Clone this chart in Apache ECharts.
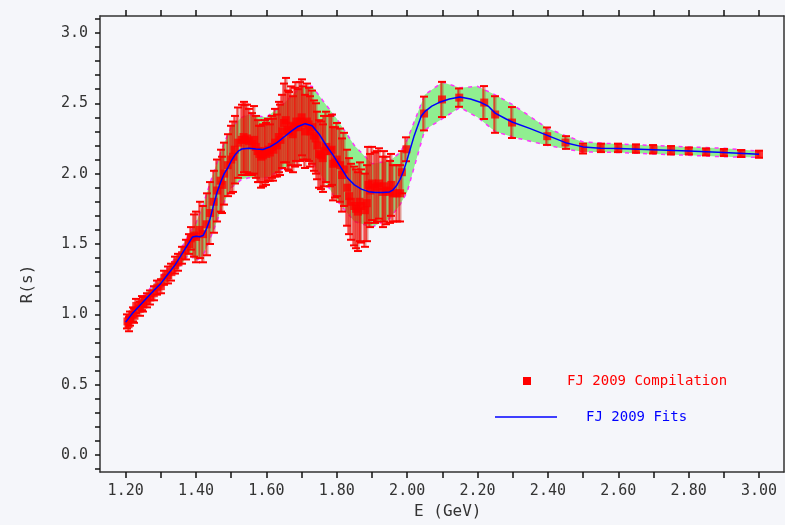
<!DOCTYPE html>
<html>
<head>
<meta charset="utf-8">
<script src="https://cdn.jsdelivr.net/npm/echarts@6/dist/echarts.min.js"></script>
<style>
  html, body { margin: 0; padding: 0; background: #f5f6fa; }
  #chart { width: 785px; height: 525px; }
</style>
</head>
<body>
<div id="chart"></div>
<script>
// R(s) compilation: energy (GeV), ratio, symmetric error
const dataE = [
  1.205, 1.208, 1.212, 1.220, 1.225, 1.230, 1.240, 1.245, 1.250, 1.260,
  1.270, 1.280, 1.290, 1.300, 1.310, 1.320, 1.330, 1.340, 1.350, 1.360,
  1.370, 1.380, 1.385, 1.395, 1.400, 1.410, 1.420, 1.430, 1.440, 1.450,
  1.460, 1.470, 1.475, 1.480, 1.490, 1.500, 1.505, 1.510, 1.520, 1.530,
  1.535, 1.540, 1.545, 1.550, 1.560, 1.565, 1.570, 1.575, 1.580, 1.585,
  1.590, 1.595, 1.600, 1.605, 1.610, 1.615, 1.620, 1.625, 1.630, 1.635,
  1.640, 1.645, 1.650, 1.655, 1.660, 1.665, 1.670, 1.675, 1.680, 1.685,
  1.690, 1.695, 1.700, 1.705, 1.710, 1.715, 1.720, 1.725, 1.730, 1.735,
  1.740, 1.745, 1.750, 1.755, 1.760, 1.765, 1.770, 1.780, 1.785, 1.790,
  1.795, 1.800, 1.810, 1.815, 1.820, 1.830, 1.835, 1.840, 1.850, 1.855,
  1.860, 1.865, 1.870, 1.880, 1.885, 1.890, 1.895, 1.900, 1.910, 1.915,
  1.920, 1.930, 1.935, 1.940, 1.950, 1.955, 1.960, 1.970, 1.980, 1.985,
  1.998, 2.048, 2.099, 2.148, 2.219, 2.250, 2.298, 2.398, 2.450, 2.500,
  2.550, 2.600, 2.650, 2.700, 2.750, 2.800, 2.850, 2.900, 2.950, 3.000
];
const dataR = [
  0.95, 0.93, 0.97, 1.00, 0.99, 1.06, 1.04, 1.08, 1.07, 1.10,
  1.12, 1.15, 1.19, 1.20, 1.26, 1.28, 1.30, 1.35, 1.37, 1.42,
  1.46, 1.50, 1.54, 1.56, 1.55, 1.60, 1.57, 1.64, 1.72, 1.80,
  1.88, 1.95, 1.92, 2.00, 2.06, 2.10, 2.12, 2.17, 2.22, 2.24,
  2.26, 2.24, 2.25, 2.23, 2.21, 2.24, 2.19, 2.16, 2.14, 2.12,
  2.13, 2.16, 2.14, 2.17, 2.15, 2.19, 2.17, 2.22, 2.20, 2.26,
  2.24, 2.30, 2.36, 2.38, 2.31, 2.30, 2.34, 2.28, 2.33, 2.37,
  2.33, 2.37, 2.40, 2.36, 2.30, 2.37, 2.35, 2.30, 2.33, 2.27,
  2.25, 2.20, 2.14, 2.13, 2.11, 2.16, 2.19, 2.16, 2.17, 2.07,
  2.08, 2.10, 2.06, 1.99, 2.03, 1.90, 1.84, 1.80, 1.77, 1.75,
  1.73, 1.80, 1.77, 1.74, 1.79, 1.92, 1.88, 1.93, 1.90, 1.91,
  1.93, 1.87, 1.91, 1.88, 1.87, 1.92, 1.86, 1.86, 1.86, 2.01,
  2.173, 2.427, 2.527, 2.540, 2.505, 2.420, 2.363, 2.266, 2.221, 2.178,
  2.183, 2.183, 2.178, 2.173, 2.166, 2.161, 2.154, 2.150, 2.143, 2.138
];
const dataErr = [
  0.05, 0.05, 0.05, 0.05, 0.05, 0.05, 0.05, 0.05, 0.05, 0.05,
  0.05, 0.05, 0.05, 0.05, 0.05, 0.06, 0.06, 0.06, 0.06, 0.06,
  0.07, 0.07, 0.08, 0.15, 0.18, 0.20, 0.20, 0.22, 0.22, 0.22,
  0.22, 0.22, 0.20, 0.22, 0.22, 0.24, 0.25, 0.24, 0.25, 0.25,
  0.25, 0.25, 0.24, 0.23, 0.22, 0.24, 0.22, 0.22, 0.20, 0.22,
  0.22, 0.22, 0.22, 0.22, 0.20, 0.22, 0.22, 0.24, 0.22, 0.25,
  0.25, 0.26, 0.28, 0.30, 0.28, 0.28, 0.28, 0.27, 0.28, 0.28,
  0.27, 0.28, 0.27, 0.26, 0.26, 0.27, 0.26, 0.25, 0.26, 0.25,
  0.25, 0.24, 0.24, 0.24, 0.24, 0.25, 0.25, 0.25, 0.25, 0.26,
  0.25, 0.26, 0.26, 0.26, 0.26, 0.27, 0.27, 0.27, 0.28, 0.28,
  0.28, 0.28, 0.26, 0.26, 0.27, 0.27, 0.26, 0.26, 0.25, 0.25,
  0.25, 0.25, 0.25, 0.24, 0.22, 0.22, 0.20, 0.20, 0.20, 0.15,
  0.085, 0.120, 0.125, 0.065, 0.117, 0.130, 0.110, 0.062, 0.045, 0.035,
  0.030, 0.030, 0.030, 0.030, 0.030, 0.025, 0.025, 0.025, 0.025, 0.025
];

// Fitted curve
const fitE = [
  1.20, 1.22, 1.25, 1.28, 1.30, 1.32, 1.34, 1.36, 1.38, 1.39,
  1.40, 1.41, 1.42, 1.43, 1.44, 1.45, 1.46, 1.47, 1.48, 1.49,
  1.50, 1.51, 1.52, 1.53, 1.55, 1.57, 1.59, 1.61, 1.63, 1.65,
  1.67, 1.69, 1.71, 1.73, 1.75, 1.77, 1.79, 1.81, 1.83, 1.85,
  1.87, 1.89, 1.91, 1.93, 1.95, 1.96, 1.97, 1.98, 1.99, 2.00,
  2.02, 2.04, 2.05, 2.07, 2.09, 2.12, 2.15, 2.18, 2.21, 2.23,
  2.25, 2.28, 2.30, 2.35, 2.40, 2.45, 2.50, 2.55, 2.60, 2.70,
  2.80, 2.90, 3.00
];
const fitR = [
  0.945, 1.01, 1.09, 1.17, 1.22, 1.285, 1.35, 1.43, 1.51, 1.55,
  1.555, 1.552, 1.56, 1.61, 1.68, 1.78, 1.87, 1.94, 2.00, 2.04,
  2.09, 2.13, 2.16, 2.175, 2.18, 2.175, 2.172, 2.19, 2.22, 2.26,
  2.30, 2.335, 2.355, 2.34, 2.28, 2.20, 2.13, 2.05, 1.97, 1.92,
  1.89, 1.872, 1.866, 1.866, 1.87, 1.885, 1.915, 1.96, 2.02, 2.10,
  2.27, 2.41, 2.44, 2.48, 2.505, 2.53, 2.545, 2.53, 2.505, 2.48,
  2.43, 2.39, 2.365, 2.32, 2.27, 2.22, 2.19, 2.18, 2.178, 2.17,
  2.16, 2.15, 2.138
];

// Error band of the fit
const bandE = [
  1.20, 1.25, 1.30, 1.35, 1.38, 1.40, 1.42, 1.45, 1.48, 1.50,
  1.53, 1.55, 1.60, 1.65, 1.70, 1.73, 1.76, 1.80, 1.85, 1.90,
  1.95, 1.98, 2.00, 2.05, 2.10, 2.15, 2.20, 2.25, 2.30, 2.40,
  2.45, 2.50, 2.60, 2.70, 2.80, 2.90, 3.00
];
const bandLo = [
  0.91, 1.05, 1.18, 1.33, 1.43, 1.38, 1.42, 1.60, 1.80, 1.90,
  1.96, 1.97, 1.97, 2.04, 2.10, 2.08, 1.97, 1.81, 1.66, 1.62,
  1.68, 1.78, 1.87, 2.31, 2.39, 2.47, 2.40, 2.30, 2.26, 2.20,
  2.175, 2.155, 2.15, 2.14, 2.13, 2.12, 2.115
];
const bandHi = [
  0.98, 1.13, 1.27, 1.43, 1.57, 1.65, 1.78, 2.01, 2.22, 2.33,
  2.40, 2.42, 2.40, 2.50, 2.62, 2.62, 2.52, 2.39, 2.20, 2.07,
  2.09, 2.15, 2.24, 2.56, 2.65, 2.61, 2.62, 2.56, 2.49, 2.32,
  2.27, 2.225, 2.21, 2.20, 2.19, 2.18, 2.16
];

// Axis ticks and labels
const xTickValues = [1.2, 1.3, 1.4, 1.5, 1.6, 1.7, 1.8, 1.9, 2.0, 2.1, 2.2, 2.3, 2.4, 2.5, 2.6, 2.7, 2.8, 2.9, 3.0];
const xLabelValues = [1.2, 1.4, 1.6, 1.8, 2.0, 2.2, 2.4, 2.6, 2.8, 3.0];
const yTickValues = [-0.1, 0.0, 0.1, 0.2, 0.3, 0.4, 0.5, 0.6, 0.7, 0.8, 0.9, 1.0, 1.1, 1.2, 1.3, 1.4, 1.5,
  1.6, 1.7, 1.8, 1.9, 2.0, 2.1, 2.2, 2.3, 2.4, 2.5, 2.6, 2.7, 2.8, 2.9, 3.0, 3.1];
const yLabelValues = [0.0, 0.5, 1.0, 1.5, 2.0, 2.5, 3.0];

const MONO = 'DejaVu Sans Mono';
const AXIS_COLOR = '#333333';

const chart = echarts.init(document.getElementById('chart'), null, { renderer: 'canvas' });

const points = dataE.map((e, i) => [e, dataR[i]]);
const errBars = dataE.map((e, i) => [e, dataR[i] - dataErr[i], dataR[i] + dataErr[i]]);
const fitLine = fitE.map((e, i) => [e, fitR[i]]);
const loLine = bandE.map((e, i) => [e, bandLo[i]]);
const hiLine = bandE.map((e, i) => [e, bandHi[i]]);

const baseX = {
  type: 'value', min: 1.127, max: 3.071,
  splitLine: { show: false },
  axisLine: { show: true, onZero: false, lineStyle: { color: AXIS_COLOR, width: 1.5 } },
  axisTick: { show: true, customValues: xTickValues, length: 6, lineStyle: { color: '#111', width: 1.5 } }
};

chart.setOption({
  animation: false,
  backgroundColor: '#f5f6fa',
  grid: { left: 100, right: 1, top: 16, bottom: 53, show: false },
  xAxis: [
    Object.assign({}, baseX, {
      position: 'bottom',
      axisLabel: {
        show: true, customValues: xLabelValues, margin: 12,
        formatter: v => v.toFixed(2),
        fontFamily: MONO, fontSize: 15, color: AXIS_COLOR
      }
    }),
    Object.assign({}, baseX, {
      position: 'top',
      axisLabel: { show: false }
    })
  ],
  yAxis: [
    {
      type: 'value', min: -0.12, max: 3.12, position: 'left',
      splitLine: { show: false },
      axisLine: { show: true, onZero: false, lineStyle: { color: AXIS_COLOR, width: 1.5 } },
      axisTick: { show: true, customValues: yTickValues, length: 5, lineStyle: { color: '#111', width: 1.5 } },
      axisLabel: {
        show: true, customValues: yLabelValues, margin: 12,
        formatter: v => v.toFixed(1),
        fontFamily: MONO, fontSize: 15, color: AXIS_COLOR
      }
    },
    {
      type: 'value', min: -0.12, max: 3.12, position: 'right',
      splitLine: { show: false },
      axisLine: { show: true, onZero: false, lineStyle: { color: AXIS_COLOR, width: 1.5 } },
      axisTick: { show: false },
      axisLabel: { show: false }
    }
  ],
  series: [
    {
      // shaded uncertainty band
      type: 'custom',
      silent: true,
      z: 1,
      data: [[bandE[0], bandLo[0]]],
      encode: { x: 0, y: 1 },
      renderItem: (params, api) => {
        const pts = [];
        for (let i = 0; i < bandE.length; i++) pts.push(api.coord([bandE[i], bandHi[i]]));
        for (let i = bandE.length - 1; i >= 0; i--) pts.push(api.coord([bandE[i], bandLo[i]]));
        return { type: 'polygon', shape: { points: pts }, style: { fill: '#90ee90' } };
      }
    },
    {
      type: 'line', data: loLine, symbol: 'none', silent: true, z: 2,
      lineStyle: { color: '#ff33ff', width: 1.5, type: [4, 5] }
    },
    {
      type: 'line', data: hiLine, symbol: 'none', silent: true, z: 2,
      lineStyle: { color: '#ff33ff', width: 1.5, type: [4, 5] }
    },
    {
      // error bars with caps
      type: 'custom',
      silent: true,
      z: 3,
      data: errBars,
      encode: { x: 0, y: [1, 2] },
      renderItem: (params, api) => {
        const lo = api.coord([api.value(0), api.value(1)]);
        const hi = api.coord([api.value(0), api.value(2)]);
        const x = Math.round(lo[0]);
        return {
          type: 'group',
          children: [
            { type: 'rect', shape: { x: x - 1, y: hi[1], width: 2.5, height: lo[1] - hi[1] },
              style: { fill: 'rgba(200,40,20,0.45)' } },
            { type: 'line', shape: { x1: x - 1, y1: hi[1], x2: x - 1, y2: lo[1] },
              style: { stroke: '#ff0000', lineWidth: 1 } },
            { type: 'line', shape: { x1: x - 4, y1: hi[1], x2: x + 4, y2: hi[1] },
              style: { stroke: '#ff0000', lineWidth: 2 } },
            { type: 'line', shape: { x1: x - 4, y1: lo[1], x2: x + 4, y2: lo[1] },
              style: { stroke: '#ff0000', lineWidth: 2 } }
          ]
        };
      }
    },
    {
      type: 'scatter', data: points, symbol: 'rect', symbolSize: 8, z: 4,
      itemStyle: { color: '#ff0000' }
    },
    {
      type: 'line', data: fitLine, symbol: 'none', z: 5,
      lineStyle: { color: '#0000ff', width: 1.5 }
    }
  ],
  graphic: [
    { type: 'text', left: 414, top: 504, style: { text: 'E (GeV)', font: '16px "DejaVu Sans Mono"', fill: AXIS_COLOR } },
    { type: 'text', x: 28, y: 284, rotation: Math.PI / 2,
      style: { text: 'R(s)', font: '16px "DejaVu Sans Mono"', fill: AXIS_COLOR, align: 'center', verticalAlign: 'middle' } },
    { type: 'rect', shape: { x: 523, y: 377, width: 8, height: 8 }, style: { fill: '#ff0000' } },
    { type: 'text', x: 567, y: 381,
      style: { text: 'FJ 2009 Compilation', font: '14px "DejaVu Sans Mono"', fill: '#ff0000', verticalAlign: 'middle' } },
    { type: 'line', shape: { x1: 495, y1: 417, x2: 557, y2: 417 }, style: { stroke: '#0000ff', lineWidth: 1.5 } },
    { type: 'text', x: 586, y: 417,
      style: { text: 'FJ 2009 Fits', font: '14px "DejaVu Sans Mono"', fill: '#0000ff', verticalAlign: 'middle' } }
  ]
});
</script>
</body>
</html>
